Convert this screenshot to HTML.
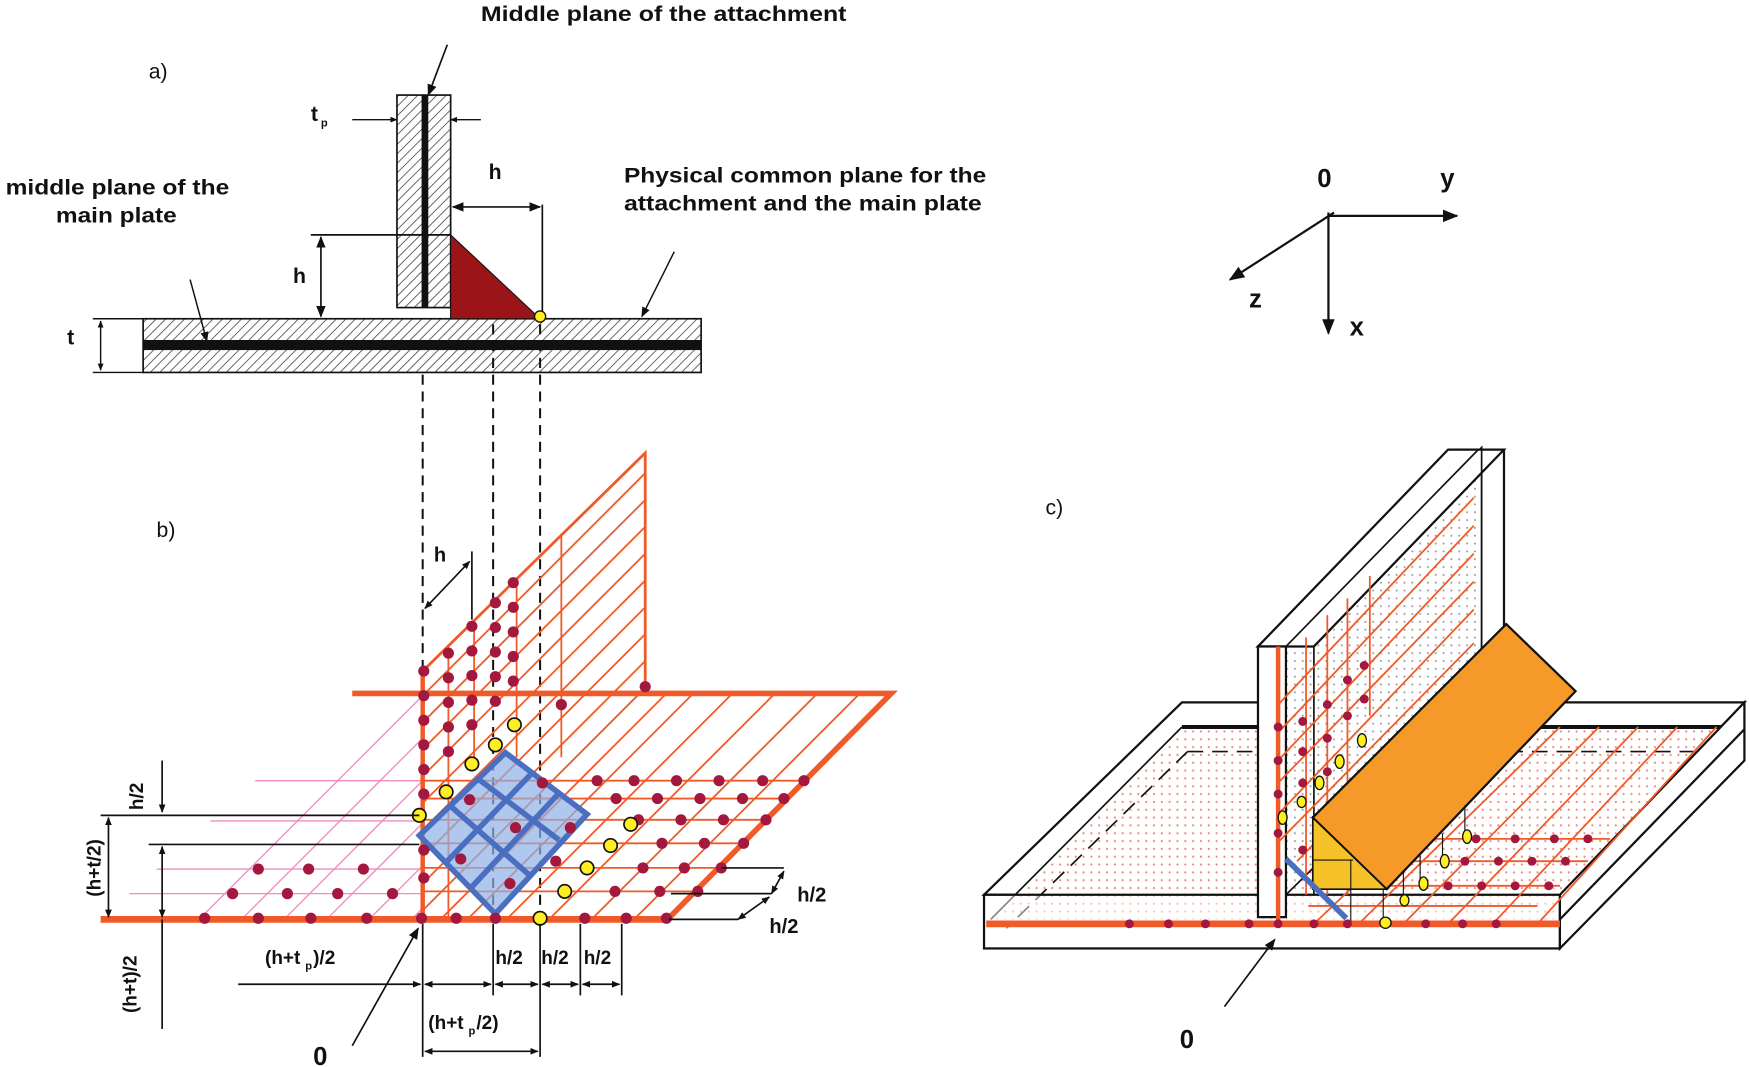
<!DOCTYPE html>
<html><head><meta charset="utf-8"><style>
html,body{margin:0;padding:0;background:#fff;width:1750px;height:1067px;overflow:hidden}
svg{display:block}
text{font-family:"Liberation Sans",Arial,sans-serif;font-weight:bold;fill:#111}
</style></head><body>
<svg width="1750" height="1067" viewBox="0 0 1565 954" preserveAspectRatio="none" xmlns="http://www.w3.org/2000/svg">
<defs>
<pattern id="hat" width="6" height="6" patternUnits="userSpaceOnUse" patternTransform="rotate(45)">
<rect width="6" height="6" fill="#fff"/><line x1="0" y1="0" x2="0" y2="6" stroke="#555" stroke-width="1.6"/></pattern>
<pattern id="pdot" width="7" height="7" patternUnits="userSpaceOnUse"><rect width="7" height="7" fill="#fff"/><circle cx="3" cy="3" r="1" fill="#f08a80"/></pattern>
<pattern id="gdot" width="7" height="7" patternUnits="userSpaceOnUse"><rect width="7" height="7" fill="#fff"/><circle cx="3" cy="3" r="0.9" fill="#999"/></pattern>
<marker id="ar" viewBox="0 0 10 10" refX="9" refY="5" markerWidth="7" markerHeight="7" orient="auto-start-reverse"><path d="M0,1 L10,5 L0,9 z" fill="#111"/></marker>
<marker id="ar2" viewBox="0 0 10 10" refX="9" refY="5" markerWidth="5" markerHeight="5" orient="auto-start-reverse"><path d="M0,1 L10,5 L0,9 z" fill="#111"/></marker>
<clipPath id="cb"><polygon points="378,600 577,405 577,620 797,620 597,822 378,822"/></clipPath>
<clipPath id="cp"><polygon points="315,620 378,620 378,822 90,822"/></clipPath>
</defs>

<!-- ===== a) ===== -->
<text x="430" y="19" font-size="19" textLength="327" lengthAdjust="spacingAndGlyphs">Middle plane of the attachment</text>
<text x="133" y="70" font-size="19" style="font-weight:normal">a)</text>
<line x1="400" y1="40" x2="383" y2="85" stroke="#111" stroke-width="1.5" marker-end="url(#ar)"/>
<rect x="355" y="85" width="48" height="190" fill="url(#hat)" stroke="#111" stroke-width="1.5"/>
<rect x="377" y="85" width="6" height="190" fill="#111"/>
<rect x="128" y="285" width="499" height="48" fill="url(#hat)" stroke="#111" stroke-width="1.5"/>
<rect x="128" y="304" width="499" height="9" fill="#111"/>
<polygon points="403,210 403,285 483,285" fill="#9b1418" stroke="#111" stroke-width="1"/>
<text x="278" y="108" font-size="19">t</text><text x="287" y="113" font-size="10">p</text>
<line x1="315" y1="107" x2="355" y2="107" stroke="#111" stroke-width="1.3" marker-end="url(#ar2)"/>
<line x1="430" y1="107" x2="403" y2="107" stroke="#111" stroke-width="1.3" marker-end="url(#ar2)"/>
<text x="437" y="160" font-size="19">h</text>
<line x1="405" y1="185" x2="483" y2="185" stroke="#111" stroke-width="1.5" marker-start="url(#ar)" marker-end="url(#ar)"/>
<line x1="485" y1="183" x2="485" y2="283" stroke="#111" stroke-width="1.5"/>
<line x1="278" y1="210" x2="403" y2="210" stroke="#111" stroke-width="1.5"/>
<line x1="287" y1="212" x2="287" y2="283" stroke="#111" stroke-width="1.5" marker-start="url(#ar)" marker-end="url(#ar)"/>
<text x="262" y="253" font-size="19">h</text>
<line x1="83" y1="285" x2="128" y2="285" stroke="#111" stroke-width="1.3"/>
<line x1="83" y1="333" x2="128" y2="333" stroke="#111" stroke-width="1.3"/>
<line x1="90" y1="287" x2="90" y2="331" stroke="#111" stroke-width="1.3" marker-start="url(#ar2)" marker-end="url(#ar2)"/>
<text x="60" y="308" font-size="19">t</text>
<text x="5" y="174" font-size="19" textLength="200" lengthAdjust="spacingAndGlyphs">middle plane of the</text>
<text x="50" y="199" font-size="19" textLength="108" lengthAdjust="spacingAndGlyphs">main plate</text>
<line x1="170" y1="250" x2="185" y2="305" stroke="#111" stroke-width="1.3" marker-end="url(#ar)"/>
<text x="558" y="163" font-size="19" textLength="324" lengthAdjust="spacingAndGlyphs">Physical common plane for the</text>
<text x="558" y="188" font-size="19" textLength="320" lengthAdjust="spacingAndGlyphs">attachment and the main plate</text>
<line x1="603" y1="225" x2="574" y2="283" stroke="#111" stroke-width="1.3" marker-end="url(#ar)"/>
<circle cx="483" cy="283" r="5" fill="#ffee22" stroke="#111" stroke-width="1.2"/>
<g stroke="#111" stroke-width="1.8" stroke-dasharray="9,6">
<line x1="378" y1="335" x2="378" y2="822"/><line x1="441" y1="290" x2="441" y2="822"/><line x1="483" y1="290" x2="483" y2="822"/></g>

<!-- axes -->
<text x="1178" y="167" font-size="23">0</text><text x="1288" y="167" font-size="23">y</text>
<text x="1117" y="275" font-size="23">z</text><text x="1207" y="300" font-size="23">x</text>
<line x1="1188" y1="193" x2="1303" y2="193" stroke="#111" stroke-width="2" marker-end="url(#ar)"/>
<line x1="1188" y1="190" x2="1188" y2="298" stroke="#111" stroke-width="2" marker-end="url(#ar)"/>
<line x1="1193" y1="190" x2="1100" y2="250" stroke="#111" stroke-width="2" marker-end="url(#ar)"/>

<!-- ===== b) ===== -->
<text x="140" y="480" font-size="19" style="font-weight:normal">b)</text>
<g clip-path="url(#cp)" stroke="#f28cc0" stroke-width="1.2">
<line x1="700" y1="300" x2="100" y2="900"/><line x1="738" y1="300" x2="138" y2="900"/><line x1="776" y1="300" x2="176" y2="900"/><line x1="814" y1="300" x2="214" y2="900"/><line x1="852" y1="300" x2="252" y2="900"/><line x1="890" y1="300" x2="290" y2="900"/>
<line x1="90" y1="698" x2="378" y2="698"/><line x1="90" y1="734" x2="378" y2="734"/><line x1="90" y1="777" x2="378" y2="777"/><line x1="90" y1="799" x2="378" y2="799"/>
</g>
<g clip-path="url(#cb)" stroke="#f05a28" stroke-width="1.6">
<line x1="700" y1="300" x2="100" y2="900"/><line x1="724" y1="300" x2="124" y2="900"/><line x1="748" y1="300" x2="148" y2="900"/><line x1="772" y1="300" x2="172" y2="900"/><line x1="796" y1="300" x2="196" y2="900"/><line x1="820" y1="300" x2="220" y2="900"/><line x1="844" y1="300" x2="244" y2="900"/><line x1="868" y1="300" x2="268" y2="900"/><line x1="892" y1="300" x2="292" y2="900"/><line x1="916" y1="300" x2="316" y2="900"/><line x1="940" y1="300" x2="340" y2="900"/><line x1="975" y1="300" x2="375" y2="900"/><line x1="1013" y1="300" x2="413" y2="900"/><line x1="1051" y1="300" x2="451" y2="900"/><line x1="1089" y1="300" x2="489" y2="900"/><line x1="1127" y1="300" x2="527" y2="900"/><line x1="1165" y1="300" x2="565" y2="900"/><line x1="1203" y1="300" x2="603" y2="900"/>
<line x1="401" y1="300" x2="401" y2="822"/><line x1="424" y1="300" x2="424" y2="677"/><line x1="462" y1="300" x2="462" y2="677"/><line x1="502" y1="300" x2="502" y2="677"/>
<line x1="378" y1="698" x2="800" y2="698"/><line x1="378" y1="714" x2="800" y2="714"/><line x1="378" y1="733" x2="800" y2="733"/><line x1="378" y1="754" x2="800" y2="754"/><line x1="378" y1="776" x2="800" y2="776"/><line x1="378" y1="797" x2="800" y2="797"/>
</g>
<g stroke="#f05a28" fill="none">
<polyline points="315,620 797,620 597,822" stroke-width="5"/>
<line x1="90" y1="822" x2="597" y2="822" stroke-width="6"/>
<line x1="378" y1="598" x2="378" y2="822" stroke-width="4"/>
<polyline points="378,600 577,405 577,620" stroke-width="2.5"/>
</g>
<polygon points="452,673 525,728 443,817 375,747" fill="#8fb0e6" fill-opacity="0.7"/>
<g stroke="#4a6fc0" stroke-width="5" fill="none">
<polygon points="452,673 525,728 443,817 375,747"/>
<line x1="427" y1="696" x2="500" y2="751"/><line x1="402" y1="720" x2="473" y2="782"/>
<line x1="476" y1="691" x2="398" y2="772"/><line x1="500" y1="709" x2="421" y2="794"/>
</g>
<g fill="#a3183e">
<circle cx="459" cy="521" r="5"/><circle cx="443" cy="539" r="5"/><circle cx="422" cy="560" r="5"/><circle cx="401" cy="584" r="5"/><circle cx="379" cy="600" r="5"/>
<circle cx="459" cy="543" r="5"/><circle cx="443" cy="561" r="5"/><circle cx="422" cy="582" r="5"/><circle cx="401" cy="606" r="5"/><circle cx="379" cy="622" r="5"/>
<circle cx="459" cy="565" r="5"/><circle cx="443" cy="583" r="5"/><circle cx="422" cy="604" r="5"/><circle cx="401" cy="628" r="5"/><circle cx="379" cy="644" r="5"/>
<circle cx="459" cy="587" r="5"/><circle cx="443" cy="605" r="5"/><circle cx="422" cy="626" r="5"/><circle cx="401" cy="650" r="5"/><circle cx="379" cy="666" r="5"/>
<circle cx="459" cy="609" r="5"/><circle cx="443" cy="627" r="5"/><circle cx="422" cy="648" r="5"/><circle cx="401" cy="672" r="5"/><circle cx="379" cy="688" r="5"/>
<circle cx="502" cy="630" r="5"/><circle cx="577" cy="614" r="5"/><circle cx="379" cy="710" r="5"/><circle cx="379" cy="760" r="5"/><circle cx="379" cy="785" r="5"/>
<circle cx="534" cy="698" r="5"/><circle cx="567" cy="698" r="5"/><circle cx="605" cy="698" r="5"/><circle cx="643" cy="698" r="5"/><circle cx="682" cy="698" r="5"/><circle cx="719" cy="698" r="5"/>
<circle cx="551" cy="714" r="5"/><circle cx="588" cy="714" r="5"/><circle cx="626" cy="714" r="5"/><circle cx="664" cy="714" r="5"/><circle cx="701" cy="714" r="5"/>
<circle cx="571" cy="733" r="5"/><circle cx="609" cy="733" r="5"/><circle cx="647" cy="733" r="5"/><circle cx="685" cy="733" r="5"/>
<circle cx="592" cy="754" r="5"/><circle cx="630" cy="754" r="5"/><circle cx="665" cy="754" r="5"/>
<circle cx="575" cy="776" r="5"/><circle cx="612" cy="776" r="5"/><circle cx="645" cy="776" r="5"/>
<circle cx="550" cy="797" r="5"/><circle cx="590" cy="797" r="5"/><circle cx="624" cy="797" r="5"/>
<circle cx="183" cy="821" r="5"/><circle cx="231" cy="821" r="5"/><circle cx="278" cy="821" r="5"/><circle cx="328" cy="821" r="5"/><circle cx="377" cy="821" r="5"/><circle cx="408" cy="821" r="5"/><circle cx="443" cy="821" r="5"/><circle cx="523" cy="821" r="5"/><circle cx="560" cy="821" r="5"/><circle cx="596" cy="821" r="5"/>
<circle cx="208" cy="799" r="5"/><circle cx="257" cy="799" r="5"/><circle cx="302" cy="799" r="5"/><circle cx="351" cy="799" r="5"/>
<circle cx="231" cy="777" r="5"/><circle cx="276" cy="777" r="5"/><circle cx="325" cy="777" r="5"/>
<circle cx="420" cy="715" r="5"/><circle cx="461" cy="740" r="5"/><circle cx="485" cy="700" r="5"/><circle cx="412" cy="768" r="5"/><circle cx="456" cy="790" r="5"/><circle cx="497" cy="770" r="5"/><circle cx="510" cy="740" r="5"/>
</g>
<g fill="#ffee22" stroke="#111" stroke-width="1.5">
<circle cx="460" cy="648" r="6"/><circle cx="443" cy="666" r="6"/><circle cx="422" cy="683" r="6"/><circle cx="399" cy="708" r="6"/><circle cx="375" cy="729" r="6"/>
<circle cx="564" cy="737" r="6"/><circle cx="546" cy="756" r="6"/><circle cx="525" cy="776" r="6"/><circle cx="505" cy="797" r="6"/><circle cx="483" cy="821" r="6"/>
</g>
<!-- b dims -->
<g stroke="#111" stroke-width="1.5" fill="none">
<line x1="422" y1="493" x2="422" y2="554"/>
<line x1="380" y1="544" x2="420" y2="502" marker-start="url(#ar2)" marker-end="url(#ar2)"/>
<line x1="145" y1="680" x2="145" y2="726" marker-end="url(#ar2)"/>
<line x1="90" y1="729" x2="375" y2="729"/><line x1="133" y1="755" x2="375" y2="755"/>
<line x1="97" y1="731" x2="97" y2="820" marker-start="url(#ar2)" marker-end="url(#ar2)"/>
<line x1="145" y1="757" x2="145" y2="820" marker-start="url(#ar2)" marker-end="url(#ar2)"/>
<line x1="145" y1="822" x2="145" y2="920"/>
<line x1="378" y1="826" x2="378" y2="945"/><line x1="441" y1="826" x2="441" y2="890"/><line x1="483" y1="826" x2="483" y2="945"/><line x1="519" y1="826" x2="519" y2="890"/><line x1="556" y1="826" x2="556" y2="890"/>
<line x1="213" y1="880" x2="376" y2="880" marker-end="url(#ar2)"/>
<line x1="380" y1="880" x2="439" y2="880" marker-start="url(#ar2)" marker-end="url(#ar2)"/>
<line x1="443" y1="880" x2="481" y2="880" marker-start="url(#ar2)" marker-end="url(#ar2)"/>
<line x1="485" y1="880" x2="517" y2="880" marker-start="url(#ar2)" marker-end="url(#ar2)"/>
<line x1="521" y1="880" x2="554" y2="880" marker-start="url(#ar2)" marker-end="url(#ar2)"/>
<line x1="380" y1="940" x2="481" y2="940" marker-start="url(#ar2)" marker-end="url(#ar2)"/>
<polyline points="645,776 701,776"/><polyline points="600,799 690,799"/><polyline points="598,822 660,822"/>
<line x1="660" y1="822" x2="688" y2="802" marker-start="url(#ar2)" marker-end="url(#ar2)"/>
<line x1="690" y1="799" x2="701" y2="779" marker-start="url(#ar2)" marker-end="url(#ar2)"/>
<line x1="315" y1="935" x2="374" y2="830" marker-end="url(#ar)"/>
</g>
<text x="128" y="712" font-size="17" transform="rotate(-90 128 712)" text-anchor="middle">h/2</text>
<text x="90" y="776" font-size="17" transform="rotate(-90 90 776)" text-anchor="middle">(h+t/2)</text>
<text x="122" y="880" font-size="17" transform="rotate(-90 122 880)" text-anchor="middle">(h+t)/2</text>
<text x="388" y="502" font-size="18">h</text>
<text x="237" y="862" font-size="17">(h+t</text><text x="273" y="867" font-size="10">p</text><text x="280" y="862" font-size="17">)/2</text>
<text x="443" y="862" font-size="17">h/2</text><text x="484" y="862" font-size="17">h/2</text><text x="522" y="862" font-size="17">h/2</text>
<text x="383" y="920" font-size="17">(h+t</text><text x="419" y="925" font-size="10">p</text><text x="426" y="920" font-size="17">/2)</text>
<text x="713" y="806" font-size="18">h/2</text><text x="688" y="834" font-size="18">h/2</text>
<text x="280" y="952" font-size="23">0</text>

<!-- ===== c) ===== -->
<text x="935" y="460" font-size="19" style="font-weight:normal">c)</text>
<polygon points="880,800 1057,628 1560,628 1395,800" fill="#fff" stroke="#111" stroke-width="2"/>
<polygon points="886,822 1057,650 1560,650 1395,822" fill="url(#pdot)" stroke="none"/>
<line x1="1057" y1="650" x2="1560" y2="650" stroke="#111" stroke-width="3.5"/>
<line x1="1057" y1="650" x2="886" y2="822" stroke="#111" stroke-width="1.5"/>
<line x1="1062" y1="672" x2="1545" y2="672" stroke="#111" stroke-width="1.5" stroke-dasharray="14,8"/>
<line x1="1062" y1="672" x2="900" y2="830" stroke="#111" stroke-width="1.5" stroke-dasharray="14,8"/>
<rect x="880" y="800" width="515" height="48" fill="#fff" fill-opacity="0.5" stroke="#111" stroke-width="2"/>
<polygon points="1395,800 1560,628 1560,680 1395,848" fill="#fff" stroke="#111" stroke-width="2"/>
<line x1="1395" y1="822" x2="1560" y2="652" stroke="#111" stroke-width="2"/>
<line x1="882" y1="826" x2="1395" y2="826" stroke="#f05a28" stroke-width="6"/>
<g stroke="#f05a28" stroke-width="1.6">
<line x1="1170" y1="810" x2="1375" y2="810"/><line x1="1230" y1="792" x2="1395" y2="792"/><line x1="1250" y1="770" x2="1420" y2="770"/><line x1="1280" y1="750" x2="1440" y2="750"/>
<line x1="1175" y1="826" x2="1360" y2="650"/><line x1="1215" y1="826" x2="1395" y2="650"/><line x1="1255" y1="826" x2="1430" y2="650"/><line x1="1295" y1="826" x2="1465" y2="650"/><line x1="1335" y1="826" x2="1500" y2="650"/><line x1="1375" y1="826" x2="1535" y2="650"/>
</g>
<polygon points="1150,578 1325,400 1325,628 1150,800" fill="url(#gdot)" stroke="#111" stroke-width="1.5"/>
<polygon points="1125,578 1295,402 1345,402 1175,578" fill="#fff" stroke="#111" stroke-width="2"/>
<line x1="1150" y1="578" x2="1322" y2="402" stroke="#111" stroke-width="1.5"/>
<line x1="1345" y1="402" x2="1345" y2="628" stroke="#111" stroke-width="2"/>
<line x1="1325" y1="402" x2="1325" y2="628" stroke="#111" stroke-width="1.5"/>
<rect x="1125" y="578" width="25" height="242" fill="#fff" stroke="#111" stroke-width="2"/>
<line x1="1175" y1="578" x2="1175" y2="800" stroke="#111" stroke-width="1.5"/>
<g stroke="#f05a28" stroke-width="1.6">
<line x1="1143" y1="578" x2="1143" y2="826" stroke-width="4"/>
<line x1="1168" y1="570" x2="1168" y2="800"/><line x1="1187" y1="550" x2="1187" y2="800"/><line x1="1205" y1="535" x2="1205" y2="800"/><line x1="1225" y1="515" x2="1225" y2="640"/>
<line x1="1143" y1="700" x2="1318" y2="520"/><line x1="1143" y1="680" x2="1318" y2="495"/><line x1="1143" y1="655" x2="1318" y2="470"/><line x1="1143" y1="630" x2="1318" y2="445"/><line x1="1143" y1="728" x2="1318" y2="545"/><line x1="1143" y1="753" x2="1318" y2="575"/><line x1="1160" y1="770" x2="1318" y2="605"/>
</g>
<polygon points="1174,731 1347,558 1409,618 1240,795" fill="#f59a28" stroke="#111" stroke-width="2"/>
<polygon points="1174,731 1240,795 1174,795" fill="#f6c22a" stroke="#111" stroke-width="1.5"/>
<line x1="1174" y1="769" x2="1210" y2="769" stroke="#111" stroke-width="1"/><line x1="1208" y1="769" x2="1208" y2="826" stroke="#111" stroke-width="1"/>
<line x1="1150" y1="768" x2="1204" y2="821" stroke="#4a6fc0" stroke-width="5"/>
<g fill="#a3183e">
<circle cx="1010" cy="826" r="4"/><circle cx="1045" cy="826" r="4"/><circle cx="1078" cy="826" r="4"/><circle cx="1117" cy="826" r="4"/><circle cx="1143" cy="826" r="4"/><circle cx="1175" cy="826" r="4"/><circle cx="1205" cy="826" r="4"/><circle cx="1275" cy="826" r="4"/><circle cx="1308" cy="826" r="4"/><circle cx="1338" cy="826" r="4"/>
<circle cx="1143" cy="780" r="4"/><circle cx="1143" cy="745" r="4"/><circle cx="1143" cy="710" r="4"/><circle cx="1143" cy="680" r="4"/><circle cx="1143" cy="650" r="4"/>
<circle cx="1165" cy="760" r="4"/><circle cx="1165" cy="700" r="4"/><circle cx="1165" cy="672" r="4"/><circle cx="1165" cy="645" r="4"/>
<circle cx="1187" cy="690" r="4"/><circle cx="1187" cy="660" r="4"/><circle cx="1187" cy="630" r="4"/><circle cx="1205" cy="640" r="4"/><circle cx="1205" cy="608" r="4"/><circle cx="1220" cy="595" r="4"/><circle cx="1220" cy="625" r="4"/>
<circle cx="1295" cy="792" r="4"/><circle cx="1325" cy="792" r="4"/><circle cx="1355" cy="792" r="4"/><circle cx="1385" cy="792" r="4"/><circle cx="1310" cy="770" r="4"/><circle cx="1340" cy="770" r="4"/><circle cx="1370" cy="770" r="4"/><circle cx="1400" cy="770" r="4"/><circle cx="1320" cy="750" r="4"/><circle cx="1355" cy="750" r="4"/><circle cx="1390" cy="750" r="4"/><circle cx="1420" cy="750" r="4"/>
</g>
<g stroke="#111" stroke-width="1"><line x1="1237" y1="795" x2="1237" y2="825"/><line x1="1255" y1="780" x2="1255" y2="805"/><line x1="1270" y1="765" x2="1270" y2="790"/><line x1="1290" y1="745" x2="1290" y2="770"/><line x1="1310" y1="720" x2="1310" y2="748"/></g>
<g fill="#ffee22" stroke="#111" stroke-width="1.2">
<ellipse cx="1147" cy="731" rx="4" ry="6"/><ellipse cx="1164" cy="717" rx="4" ry="5"/><ellipse cx="1180" cy="700" rx="4" ry="6"/><ellipse cx="1198" cy="681" rx="4" ry="6"/><ellipse cx="1218" cy="662" rx="4" ry="6"/>
<ellipse cx="1239" cy="825" rx="5" ry="5"/><ellipse cx="1256" cy="805" rx="4" ry="5"/><ellipse cx="1273" cy="790" rx="4" ry="6"/><ellipse cx="1292" cy="770" rx="4" ry="6"/><ellipse cx="1312" cy="748" rx="4" ry="6"/>
</g>
<line x1="1095" y1="900" x2="1140" y2="840" stroke="#111" stroke-width="1.5" marker-end="url(#ar)"/>
<text x="1055" y="937" font-size="23">0</text>
</svg>
</body></html>
